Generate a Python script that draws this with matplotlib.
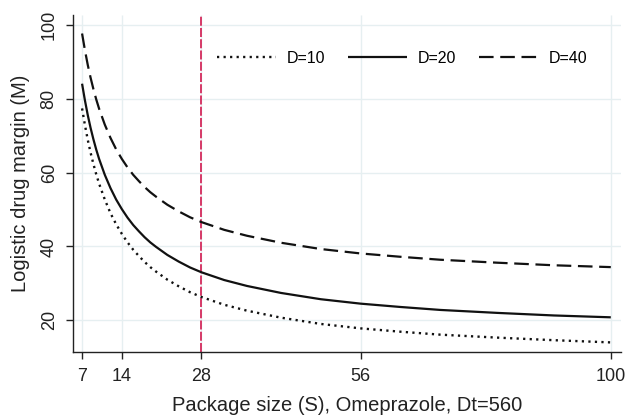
import numpy as np
import matplotlib
matplotlib.use('Agg')
import matplotlib.pyplot as plt

# package size S and logistic drug margin M
pack_size = [7, 7.5, 8, 8.5, 9, 9.5, 10, 11, 12, 13, 14, 15, 16, 17, 18, 19, 20, 22, 24, 26,
             28, 32, 36, 42, 49, 56, 63, 70, 80, 90, 100]
margin_d10 = [77.4, 72.9, 68.9, 65.4, 62.3, 59.5, 57.0, 52.7, 49.0, 46.0, 43.4, 41.1, 39.1,
              37.4, 35.8, 34.4, 33.2, 31.0, 29.2, 27.6, 26.3, 24.2, 22.6, 20.7, 19.0, 17.8,
              16.9, 16.1, 15.3, 14.6, 14.0]
margin_d20 = [84.1, 79.6, 75.6, 72.1, 69.0, 66.2, 63.7, 59.4, 55.8, 52.7, 50.1, 47.8, 45.8,
              44.1, 42.5, 41.1, 39.9, 37.7, 35.9, 34.3, 33.0, 30.9, 29.3, 27.4, 25.7, 24.5,
              23.6, 22.8, 22.0, 21.3, 20.8]
margin_d40 = [97.7, 93.2, 89.2, 85.7, 82.6, 79.8, 77.3, 73.0, 69.4, 66.3, 63.7, 61.4, 59.4,
              57.7, 56.1, 54.7, 53.5, 51.3, 49.5, 47.9, 46.6, 44.5, 42.9, 41.0, 39.3, 38.1,
              37.2, 36.4, 35.6, 34.9, 34.4]
x_ticks = [7, 14, 28, 56, 100]
y_ticks = [20, 40, 60, 80, 100]
marked_size = 28

plt.rcParams['font.family'] = ['Liberation Sans', 'DejaVu Sans']
plt.rcParams['lines.scale_dashes'] = False
plt.rcParams['lines.solid_capstyle'] = 'butt'

fig = plt.figure(figsize=(6.28, 4.18), dpi=100)
ax = fig.add_axes([0.1162, 0.157, 0.8727, 0.807])

grid_col = '#e6eff1'
for xt in x_ticks:
    ax.axvline(xt, color=grid_col, lw=1.0, zorder=0)
for yt in y_ticks:
    ax.axhline(yt, color=grid_col, lw=1.0, zorder=0)

ax.axvline(marked_size, color='#d42a5c', lw=1.3, dashes=(6.5, 1.6), zorder=1)

ax.plot(pack_size, margin_d10, color='#111111', lw=1.7, dashes=(1.6, 3.1), label='D=10', zorder=2)
ax.plot(pack_size, margin_d20, color='#111111', lw=1.6, label='D=20', zorder=2)
ax.plot(pack_size, margin_d40, color='#111111', lw=1.6, dashes=(10.5, 4.8), label='D=40', zorder=2)

ax.set_xlim(5.4, 101.8)
ax.set_ylim(11.3, 102.7)
ax.set_xticks(x_ticks)
ax.set_yticks(y_ticks)
ax.tick_params(direction='out', length=5, width=1.0, labelsize=13, colors='#222222', pad=6)
plt.setp(ax.get_yticklabels(), rotation=90, va='center')
for side in ['top', 'right']:
    ax.spines[side].set_visible(False)
for side in ['left', 'bottom']:
    ax.spines[side].set_linewidth(1.0)
    ax.spines[side].set_color('#222222')

ax.set_xlabel('Package size (S), Omeprazole, Dt=560', fontsize=14.5, color='#222222', labelpad=8)
ax.set_ylabel('Logistic drug margin (M)', fontsize=14.5, color='#222222', labelpad=8)

leg = ax.legend(loc='center left', bbox_to_anchor=(0.263, 0.8725), ncol=3, frameon=False,
                handlelength=3.7, handletextpad=0.65, columnspacing=1.45, fontsize=11.5,
                borderpad=0, borderaxespad=0)

fig.savefig('out.png', dpi=100)
